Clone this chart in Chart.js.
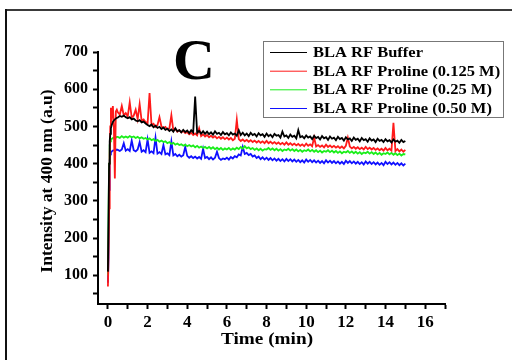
<!DOCTYPE html>
<html>
<head>
<meta charset="utf-8">
<script src="https://cdn.jsdelivr.net/npm/chart.js@4.4.1/dist/chart.umd.min.js"></script>
<style>
  html, body { margin: 0; padding: 0; background: #fff; }
  #wrap { width: 512px; height: 360px; }
</style>
</head>
<body>
<div id="wrap"><canvas id="fluorChart" width="512" height="360"></canvas></div>
<script>
    // Prepare the data
    const panelLabel = 'C';
    const xTitle = 'Time (min)';
    const yTitle = 'Intensity at 400 nm (a.u)';
    const seriesNames = ['BLA RF Buffer', 'BLA RF Proline (0.125 M)', 'BLA RF Proline (0.25 M)', 'BLA RF Proline (0.50 M)'];
    const seriesColors = ['#000000', '#ff1a1a', '#1aee1a', '#1010ff'];
    const xTicks = [0, 1, 2, 3, 4, 5, 6, 7, 8, 9, 10, 11, 12, 13, 14, 15, 16, 17];
    const yTicks = [50, 100, 150, 200, 250, 300, 350, 400, 450, 500, 550, 600, 650, 700];

    const time = [0, 0.03, 0.06, 0.09, 0.12, 0.15, 0.2, 0.25, 0.3, 0.35, 0.4, 0.45,
      0.5, 0.6, 0.7, 0.8, 0.9,
      1.0, 1.1, 1.2, 1.3, 1.4, 1.5, 1.6, 1.7, 1.8, 1.9,
      2.0, 2.1, 2.2, 2.3, 2.4, 2.5, 2.6, 2.7, 2.8, 2.9,
      3.0, 3.1, 3.2, 3.3, 3.4, 3.5, 3.6, 3.7, 3.8, 3.9,
      4.0, 4.1, 4.2, 4.3, 4.4, 4.5, 4.6, 4.7, 4.8, 4.9,
      5.0, 5.1, 5.2, 5.3, 5.4, 5.5, 5.6, 5.7, 5.8, 5.9,
      6.0, 6.1, 6.2, 6.3, 6.4, 6.5, 6.6, 6.7, 6.8, 6.9,
      7.0, 7.1, 7.2, 7.3, 7.4, 7.5, 7.6, 7.7, 7.8, 7.9,
      8.0, 8.1, 8.2, 8.3, 8.4, 8.5, 8.6, 8.7, 8.8, 8.9,
      9.0, 9.1, 9.2, 9.3, 9.4, 9.5, 9.6, 9.7, 9.8, 9.9,
      10.0, 10.1, 10.2, 10.3, 10.4, 10.5, 10.6, 10.7, 10.8, 10.9,
      11.0, 11.1, 11.2, 11.3, 11.4, 11.5, 11.6, 11.7, 11.8, 11.9,
      12.0, 12.1, 12.2, 12.3, 12.4, 12.5, 12.6, 12.7, 12.8, 12.9,
      13.0, 13.1, 13.2, 13.3, 13.4, 13.5, 13.6, 13.7, 13.8, 13.9,
      14.0, 14.1, 14.2, 14.3, 14.4, 14.5, 14.6, 14.7, 14.8, 14.9,
      15.0];

    const buffer = [110, 250, 400, 460, 480, 495, 505, 512, 516, 519, 521, 523,
      524, 528, 526, 529, 525,
      522, 525, 519, 521, 516, 514, 517, 511, 513, 508,
      504, 501, 505, 498, 502, 496, 499, 493, 497, 491,
      494, 488, 492, 486, 495, 487, 490, 484, 491, 485,
      489, 482, 490, 484, 580, 483, 488, 481, 487, 480,
      486, 479, 484, 478, 487, 480, 483, 477, 485, 479,
      482, 476, 484, 478, 481, 475, 490, 477, 483, 476,
      481, 474, 483, 477, 480, 473, 482, 476, 479, 472,
      481, 474, 478, 471, 480, 475, 477, 470, 486, 473,
      476, 469, 478, 472, 475, 468, 490, 471, 474, 468,
      476, 470, 473, 466, 475, 469, 472, 465, 474, 468,
      471, 464, 473, 467, 470, 463, 472, 466, 469, 462,
      471, 465, 468, 461, 470, 464, 467, 460, 469, 463,
      466, 459, 468, 462, 465, 458, 467, 461, 464, 458,
      466, 460, 463, 457, 465, 459, 462, 456, 464, 458,
      461];

    const proline0125 = [70, 150, 280, 420, 500, 550, 530, 555, 500, 360, 540, 545,
      538, 532, 555, 530, 536,
      527, 565, 524, 529, 545, 520, 560, 516, 519, 512,
      508, 590, 503, 507, 499, 504, 525, 500, 496, 499,
      492, 495, 530, 489, 493, 486, 490, 484, 488, 482,
      485, 479, 483, 477, 481, 476, 495, 474, 479, 473,
      477, 471, 475, 470, 474, 468, 472, 467, 471, 466,
      470, 465, 469, 463, 467, 518, 466, 461, 465, 460,
      464, 459, 463, 458, 462, 457, 461, 456, 460, 455,
      461, 455, 459, 454, 458, 453, 457, 452, 456, 451,
      457, 451, 455, 450, 454, 449, 453, 448, 452, 447,
      454, 448, 452, 447, 470, 446, 450, 445, 449, 444,
      451, 445, 449, 444, 448, 443, 447, 442, 446, 441,
      448, 470, 446, 441, 445, 440, 444, 439, 443, 438,
      445, 439, 443, 438, 442, 437, 441, 436, 440, 435,
      442, 436, 440, 435, 510, 434, 439, 433, 438, 432,
      437];

    const proline025 = [100, 260, 400, 450, 460, 465, 467, 469, 470, 471, 470, 472,
      472, 469, 474, 470, 473,
      470, 474, 471, 473, 469, 472, 468, 471, 467, 469,
      465, 468, 463, 466, 461, 464, 459, 462, 458, 460,
      455, 458, 453, 456, 451, 454, 450, 452, 448, 451,
      447, 450, 446, 449, 444, 448, 443, 446, 442, 445,
      441, 445, 440, 444, 439, 443, 438, 442, 437, 441,
      438, 442, 437, 441, 438, 443, 439, 445, 440, 447,
      441, 444, 439, 442, 437, 441, 436, 440, 435, 439,
      438, 442, 437, 441, 436, 440, 435, 439, 434, 438,
      436, 440, 435, 439, 434, 438, 433, 437, 432, 436,
      434, 438, 433, 437, 432, 436, 431, 435, 430, 434,
      432, 436, 431, 435, 430, 434, 429, 433, 428, 432,
      430, 434, 429, 433, 428, 432, 427, 431, 426, 430,
      428, 432, 427, 431, 426, 430, 425, 429, 424, 428,
      426, 430, 425, 429, 424, 428, 423, 427, 422, 426,
      425];

    const proline050 = [80, 150, 330, 410, 425, 430, 433, 435, 436, 437, 436, 438,
      437, 434, 438, 455, 435,
      439, 434, 462, 436, 433, 438, 458, 432, 436, 431,
      465, 429, 433, 428, 470, 427, 431, 426, 450, 425,
      428, 423, 460, 422, 426, 420, 424, 419, 423, 445,
      421, 416, 420, 415, 419, 414, 418, 413, 440, 415,
      418, 412, 417, 411, 416, 432, 415, 410, 414, 412,
      416, 411, 418, 414, 420, 417, 425, 422, 445, 426,
      429, 423, 426, 419, 422, 415, 419, 412, 417, 411,
      416, 410, 415, 409, 414, 408, 413, 407, 412, 406,
      413, 407, 412, 406, 411, 405, 410, 404, 409, 403,
      411, 405, 410, 404, 409, 403, 408, 402, 407, 401,
      409, 403, 408, 402, 407, 401, 406, 400, 405, 399,
      408, 402, 407, 401, 406, 400, 405, 399, 404, 398,
      406, 400, 405, 399, 404, 398, 403, 397, 402, 396,
      405, 399, 404, 398, 403, 397, 402, 396, 401, 395,
      400];

    const seriesValues = [buffer, proline0125, proline025, proline050];

    const serif = '"Liberation Serif", "Times New Roman", serif';

    // Extra drawing: frame, panel letter, axis titles, legend box
    const decorations = {
      id: 'decorations',
      beforeDraw(chart) {
        const c = chart.ctx;
        c.save();
        c.fillStyle = '#ffffff';
        c.fillRect(0, 0, chart.width, chart.height);
        c.fillStyle = '#3a3a3a';
        c.fillRect(5, 9, chart.width - 5, 2);
        c.fillStyle = '#111111';
        c.fillRect(5, 9, 2, chart.height - 9);
        c.restore();
      },
      afterDraw(chart) {
        const c = chart.ctx;
        c.save();
        c.fillStyle = '#000';
        c.textAlign = 'center';
        c.textBaseline = 'alphabetic';
        c.font = 'bold 58px ' + serif;
        c.fillText(panelLabel, 194, 79);

        // x title
        c.save();
        c.translate(267, 339);
        c.scale(1.1, 1);
        c.font = 'bold 17.5px ' + serif;
        c.textBaseline = 'middle';
        c.fillText(xTitle, 0, 0);
        c.restore();

        // y title
        c.save();
        c.translate(47, 181);
        c.rotate(-Math.PI / 2);
        c.font = 'bold 17.5px ' + serif;
        c.textBaseline = 'middle';
        c.fillText(yTitle, 0, 0);
        c.restore();

        // legend
        c.strokeStyle = '#777';
        c.lineWidth = 1;
        c.strokeRect(263.5, 41.5, 240, 76);
        const rows = [52, 70.7, 89.3, 108];
        chart.data.datasets.forEach((ds, i) => {
          c.strokeStyle = ds.borderColor;
          c.beginPath();
          c.moveTo(270, rows[i] + 0.5);
          c.lineTo(307, rows[i] + 0.5);
          c.stroke();
          c.save();
          c.translate(313, rows[i] + 1);
          c.scale(1.1, 1);
          c.fillStyle = '#000';
          c.textAlign = 'left';
          c.textBaseline = 'middle';
          c.font = 'bold 15px ' + serif;
          c.fillText(ds.label, 0, 0);
          c.restore();
        });
        c.restore();
      }
    };

    // Create the chart
    const ctx = document.getElementById('fluorChart').getContext('2d');
    new Chart(ctx, {
      type: 'line',
      data: {
        datasets: seriesNames.map((name, i) => ({
          label: name,
          data: time.map((t, j) => ({ x: t, y: seriesValues[i][j] })),
          borderColor: seriesColors[i],
          backgroundColor: seriesColors[i],
          borderWidth: 1.8,
          pointRadius: 0,
          tension: 0
        }))
      },
      options: {
        responsive: false,
        animation: false,
        layout: { padding: { top: 52, right: 67, left: 0, bottom: 0 } },
        plugins: {
          legend: { display: false },
          tooltip: { enabled: false }
        },
        scales: {
          x: {
            type: 'linear',
            min: -0.5,
            max: 17,
            afterBuildTicks: (scale) => { scale.ticks = xTicks.map(v => ({ value: v })); },
            afterFit: (scale) => { scale.height = 56; },
            ticks: {
              autoSkip: false,
              maxRotation: 0,
              padding: 3,
              color: '#000',
              font: { family: serif, size: 17, weight: 'bold' },
              callback: (v) => (v % 2 === 0 ? String(v) : '')
            },
            grid: { drawOnChartArea: false, drawTicks: true, tickLength: 5, tickColor: '#000', tickWidth: 2 },
            border: { color: '#000', width: 2 }
          },
          y: {
            min: 23,
            max: 700,
            afterBuildTicks: (scale) => { scale.ticks = yTicks.map(v => ({ value: v })); },
            afterFit: (scale) => { scale.width = 98; },
            ticks: {
              autoSkip: false,
              padding: 5,
              color: '#000',
              font: { family: serif, size: 16, weight: 'bold' },
              callback: (v) => (v % 100 === 0 ? String(v) : '')
            },
            grid: { drawOnChartArea: false, drawTicks: true, tickLength: 5, tickColor: '#000', tickWidth: 2 },
            border: { color: '#000', width: 2 }
          }
        }
      },
      plugins: [decorations]
    });
</script>
</body>
</html>
